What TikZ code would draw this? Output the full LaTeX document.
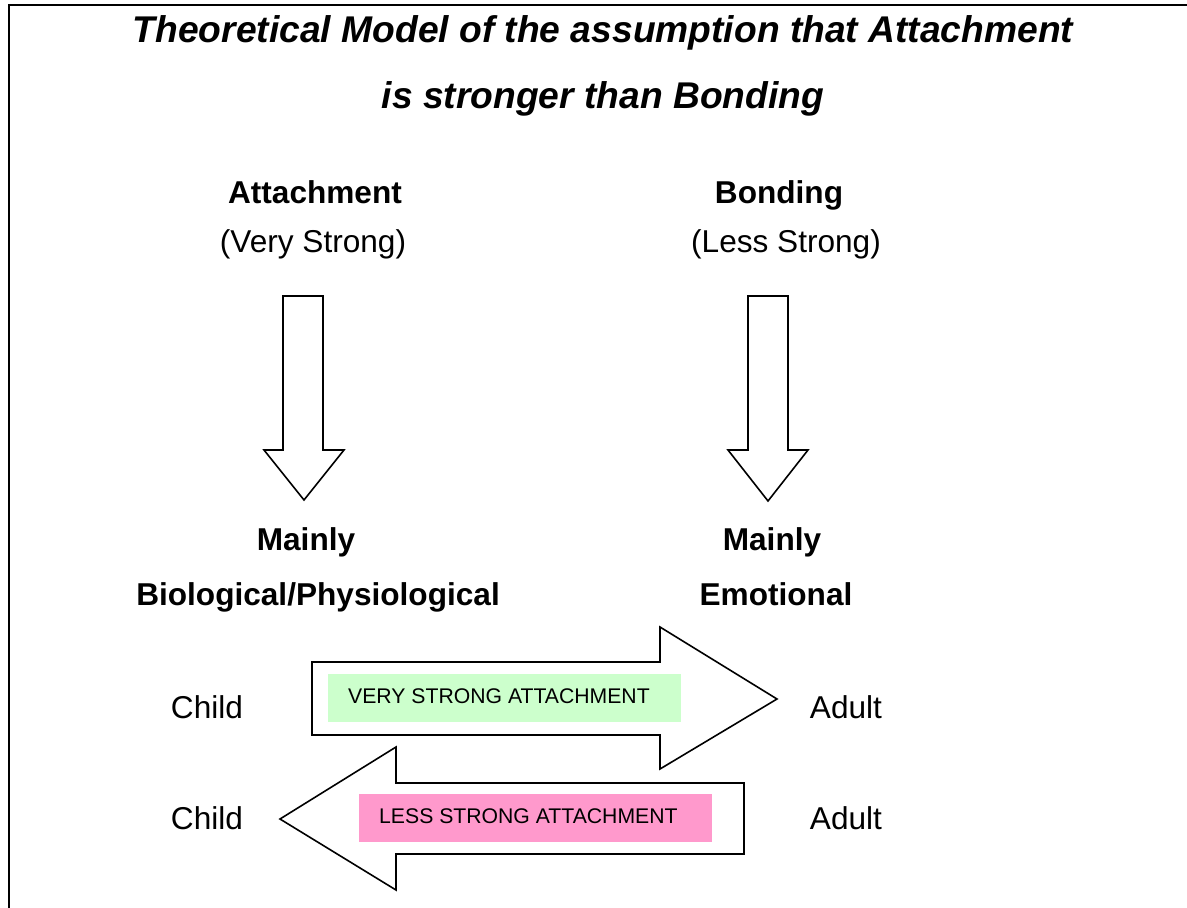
\documentclass[tikz,border=0pt]{standalone}
\usepackage{fontspec}
\setmainfont{Liberation Sans}
\definecolor{softgreen}{HTML}{CCFFCC}
\definecolor{softpink}{HTML}{FF99CC}
\begin{document}
\begin{tikzpicture}[x=1pt,y=-1pt,
  titletext/.style={font=\fontsize{37.2}{44}\selectfont\bfseries\itshape, inner sep=0pt, anchor=base},
  headtext/.style={font=\fontsize{31.6}{38}\selectfont\bfseries, inner sep=0pt, anchor=base},
  plaintext/.style={font=\fontsize{31.6}{38}\selectfont, inner sep=0pt, anchor=base},
  bandtext/.style={font=\fontsize{21.2}{26}\selectfont, inner sep=0pt, anchor=base west},
  blockarrow/.style={draw=black, line width=1.6pt, fill=white, line join=miter},
  band/.style={draw=none, inner sep=0pt, anchor=north west}]
\useasboundingbox (0,0) rectangle (1187,908);
\fill[white] (0,0) rectangle (1187,908);
% frame (top and left edges)
\draw[line width=2.6pt] (9,908) -- (9,5) -- (1187,5);

% title
\node[titletext] (t1) at (603,42) {Theoretical Model of the assumption that Attachment};
\node[titletext] (t2) at (603,108) {is stronger than Bonding};

% column headings
\node[headtext] (att) at (315,203) {Attachment};
\node[plaintext] (vs) at (313,252) {(Very Strong)};
\node[headtext] (bond) at (779,203) {Bonding};
\node[plaintext] (ls) at (786,252) {(Less Strong)};

% downward block arrows
\draw[blockarrow] (283,296) -- (323,296) -- (323,450) -- (344,450) -- (304,500)
  -- (264,450) -- (283,450) -- cycle;
\draw[blockarrow] (748,296) -- (788,296) -- (788,450) -- (808,450) -- (768,501)
  -- (728,450) -- (748,450) -- cycle;

% outcome labels
\node[headtext] (m1) at (306,550) {Mainly};
\node[headtext] (bio) at (318,605) {Biological/Physiological};
\node[headtext] (m2) at (772,550) {Mainly};
\node[headtext] (emo) at (776,605) {Emotional};

% child / adult labels
\node[plaintext] (c1) at (207,718) {Child};
\node[plaintext] (a1) at (846,718) {Adult};
\node[plaintext] (c2) at (207,829) {Child};
\node[plaintext] (a2) at (846,829) {Adult};

% rightward block arrow
\draw[blockarrow] (312,662) -- (660,662) -- (660,627) -- (777,699) -- (660,769)
  -- (660,735) -- (312,735) -- cycle;
\node[band, fill=softgreen, minimum width=353pt, minimum height=48pt] (vsband) at (328,674) {};
\node[bandtext] (vslabel) at ([xshift=20pt, yshift=-29pt]vsband.north west) {VERY STRONG ATTACHMENT};

% leftward block arrow
\draw[blockarrow] (744,783) -- (396,783) -- (396,747) -- (280,819) -- (396,890)
  -- (396,854) -- (744,854) -- cycle;
\node[band, fill=softpink, minimum width=353pt, minimum height=48pt] (lsband) at (359,794) {};
\node[bandtext] (lslabel) at ([xshift=20pt, yshift=-29pt]lsband.north west) {LESS STRONG ATTACHMENT};
\end{tikzpicture}
\end{document}
